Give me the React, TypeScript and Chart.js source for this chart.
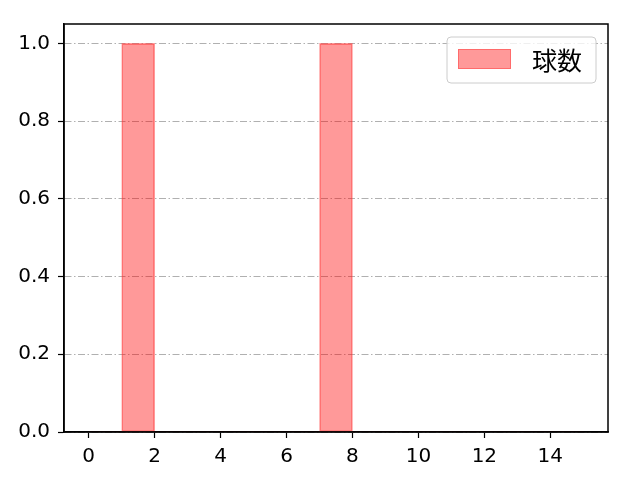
import { useEffect, useRef } from 'react';
import { Chart, registerables } from 'chart.js';

Chart.register(...registerables);

// histogram bins (left edges), counts per bin, tick labels
const binEdges = [0, 1, 2, 3, 4, 5, 6, 7, 8, 9, 10, 11, 12, 13, 14];
const counts = [0, 1, 0, 0, 0, 0, 0, 1, 0, 0, 0, 0, 0, 0, 0];
const xTicks = [0, 2, 4, 6, 8, 10, 12, 14];
const yTicks = [0, 0.2, 0.4, 0.6, 0.8, 1.0];
const seriesLabel = '球数';

const TICK_FONT = "'DejaVu Sans', sans-serif";
const CJK_FONT = "'Noto Sans CJK JP', sans-serif";
const FILL = 'rgba(255, 0, 0, 0.4)';
const EDGE = 'rgba(255, 70, 70, 0.55)';

const framePlugin = {
  id: 'frameAndLegend',
  afterDraw(chart: any) {
    const { ctx, chartArea } = chart;
    ctx.save();
    // axes frame
    ctx.strokeStyle = '#000';
    ctx.lineWidth = 1.5;
    ctx.strokeRect(chartArea.left, chartArea.top, chartArea.right - chartArea.left, chartArea.bottom - chartArea.top);

    // legend box, upper right inside the axes
    const bx = chartArea.right - 161;
    const by = chartArea.top + 13;
    const bw = 149;
    const bh = 46;
    ctx.beginPath();
    ctx.roundRect(bx, by, bw, bh, 4);
    ctx.fillStyle = 'rgba(255,255,255,0.8)';
    ctx.fill();
    ctx.strokeStyle = '#cccccc';
    ctx.lineWidth = 1;
    ctx.stroke();

    ctx.fillStyle = FILL;
    ctx.fillRect(bx + 11, by + 12, 53, 20);
    ctx.strokeStyle = EDGE;
    ctx.strokeRect(bx + 11.5, by + 12.5, 52, 19);

    ctx.fillStyle = '#000';
    ctx.font = `25px ${CJK_FONT}`;
    ctx.textBaseline = 'middle';
    ctx.fillText(seriesLabel, bx + 85, by + 23);
    ctx.restore();
  },
};

export default function App() {
  const canvasRef = useRef<HTMLCanvasElement>(null);

  useEffect(() => {
    if (!canvasRef.current) return;
    const ctx = canvasRef.current.getContext('2d');
    if (!ctx) return;

    const chart = new Chart(ctx, {
      type: 'bar',
      data: {
        datasets: [
          {
            label: seriesLabel,
            data: binEdges.map((e, i) => ({ x: e + 0.5, y: counts[i] })),
            backgroundColor: FILL,
            borderColor: EDGE,
            borderWidth: (c: any) => (c.raw && c.raw.y > 0 ? 1 : 0),
            borderSkipped: false,
            barPercentage: 1,
            categoryPercentage: 1,
          },
        ],
      },
      options: {
        animation: false,
        responsive: true,
        maintainAspectRatio: false,
        layout: { padding: { top: 24, right: 32, left: 0, bottom: 0 } },
        plugins: { legend: { display: false }, tooltip: { enabled: false } },
        scales: {
          x: {
            type: 'linear',
            min: -0.75,
            max: 15.75,
            offset: false,
            afterBuildTicks: (s: any) => {
              s.ticks = xTicks.map((v) => ({ value: v }));
            },
            afterFit: (s: any) => {
              s.height = 48;
            },
            grid: {
              offset: false,
              drawOnChartArea: false,
              drawTicks: true,
              tickLength: 6,
              tickColor: '#000',
              tickWidth: 1.2,
            },
            border: { color: '#000', width: 1.5 },
            ticks: { color: '#000', padding: 7, font: { family: TICK_FONT, size: 20 }, maxRotation: 0 },
          },
          y: {
            type: 'linear',
            min: 0,
            max: 1.05,
            afterBuildTicks: (s: any) => {
              s.ticks = yTicks.map((v) => ({ value: v }));
            },
            afterFit: (s: any) => {
              s.width = 64;
            },
            grid: {
              color: '#b0b0b0',
              lineWidth: 1,
              drawTicks: true,
              tickLength: 6,
              tickColor: '#000',
              tickWidth: 1.2,
              tickBorderDash: [],
            },
            border: { color: '#000', width: 1.5, dash: [7, 2.5, 1.5, 2.5] },
            ticks: {
              color: '#000',
              padding: 8,
              font: { family: TICK_FONT, size: 20 },
              callback: (v: any) => Number(v).toFixed(1),
            },
          },
        },
      },
      plugins: [framePlugin],
    });

    return () => chart.destroy();
  }, []);

  return (
    <div style={{ position: 'fixed', left: 0, top: 0, width: 640, height: 480, background: '#fff' }}>
      <canvas ref={canvasRef} />
    </div>
  );
}
